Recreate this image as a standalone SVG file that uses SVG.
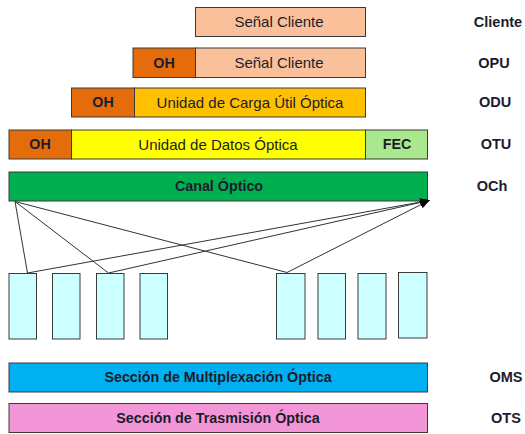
<svg xmlns="http://www.w3.org/2000/svg" width="525" height="434" viewBox="0 0 525 434">
<style>
.b{stroke:#3a3a3a;stroke-width:1}
.t{font-family:"Liberation Sans",Arial,sans-serif;font-size:15px;fill:#1c1c2c;text-anchor:middle;dominant-baseline:central}
.tb{font-family:"Liberation Sans",Arial,sans-serif;font-size:14.3px;font-weight:bold;fill:#1c1c2c;text-anchor:middle;dominant-baseline:central}
.l{font-family:"Liberation Sans",Arial,sans-serif;font-size:14.5px;font-weight:bold;fill:#1c1c2c;text-anchor:middle;dominant-baseline:central}
.c{fill:#ccffff}
.ln{stroke:#333;stroke-width:1;fill:none}
</style>
<defs>
<marker id="ah" markerWidth="10" markerHeight="8" refX="9" refY="4" orient="auto" markerUnits="userSpaceOnUse">
<path d="M0,0 L10,4 L0,8 z" fill="#000"/>
</marker>
</defs>
<rect width="525" height="434" fill="#fff"/>
<g id="cliente">
<rect class="b" x="195.5" y="7.5" width="170" height="29" fill="#f9c09a"/>
<text class="t" x="279" y="21.5">Señal Cliente</text>
<text class="l" x="498" y="22">Cliente</text>
</g>
<g id="opu">
<rect class="b" x="133" y="48" width="62.5" height="29.5" fill="#e46c0a"/>
<rect class="b" x="195.5" y="48" width="170" height="29.5" fill="#f9c09a"/>
<text class="tb" x="164" y="62.5">OH</text>
<text class="t" x="279" y="62.5">Señal Cliente</text>
<text class="l" x="494" y="62.5">OPU</text>
</g>
<g id="odu">
<rect class="b" x="71.5" y="88" width="63" height="29" fill="#e46c0a"/>
<rect class="b" x="134.5" y="88" width="231" height="29" fill="#ffc000"/>
<text class="tb" x="103" y="102">OH</text>
<text class="t" x="250" y="102">Unidad de Carga Útil Óptica</text>
<text class="l" x="495" y="102">ODU</text>
</g>
<g id="otu">
<rect class="b" x="9" y="130" width="62.5" height="29" fill="#e46c0a"/>
<rect class="b" x="71.5" y="130" width="294" height="29" fill="#ffff00"/>
<rect class="b" x="365.5" y="130" width="62" height="29" fill="#a9e88c"/>
<text class="tb" x="40" y="144">OH</text>
<text class="t" x="218" y="144">Unidad de Datos Óptica</text>
<text class="tb" x="397" y="144">FEC</text>
<text class="l" x="496" y="144">OTU</text>
</g>
<g id="och">
<rect class="b" x="9" y="172" width="418.5" height="29" fill="#00b050"/>
<text class="tb" x="219" y="186">Canal Óptico</text>
<text class="l" x="492" y="186">OCh</text>
</g>
<g id="lambdas">
<rect class="b c" x="9" y="273.5" width="27.5" height="65.5"/>
<rect class="b c" x="52.5" y="273.5" width="27.5" height="65.5"/>
<rect class="b c" x="96.5" y="273.5" width="27.5" height="65.5"/>
<rect class="b c" x="140" y="273.5" width="27.5" height="65.5"/>
<rect class="b c" x="276.5" y="273.5" width="28.5" height="65.5"/>
<rect class="b c" x="318" y="273.5" width="27.5" height="65.5"/>
<rect class="b c" x="358" y="273.5" width="28" height="65.5"/>
<rect class="b c" x="398.5" y="272.5" width="28.5" height="65.5"/>
</g>
<g id="connectors">
<line class="ln" x1="15" y1="201.5" x2="27.5" y2="273"/>
<line class="ln" x1="15" y1="201.5" x2="108.5" y2="273"/>
<line class="ln" x1="15" y1="201.5" x2="287" y2="272.5"/>
<line class="ln" x1="27.5" y1="273" x2="429" y2="200.5" marker-end="url(#ah)"/>
<line class="ln" x1="108.5" y1="273" x2="429" y2="200.5" marker-end="url(#ah)"/>
<line class="ln" x1="287" y1="272.5" x2="429" y2="200.5" marker-end="url(#ah)"/>
</g>
<g id="oms">
<rect class="b" x="9" y="363" width="418.5" height="29" fill="#00b0f0"/>
<text class="tb" x="218" y="377">Sección de Multiplexación Óptica</text>
<text class="l" x="506" y="377">OMS</text>
</g>
<g id="ots">
<rect class="b" x="9" y="403.5" width="418.5" height="29" fill="#f396d8"/>
<text class="tb" x="218" y="418">Sección de Trasmisión Óptica</text>
<text class="l" x="506" y="418">OTS</text>
</g>
</svg>
